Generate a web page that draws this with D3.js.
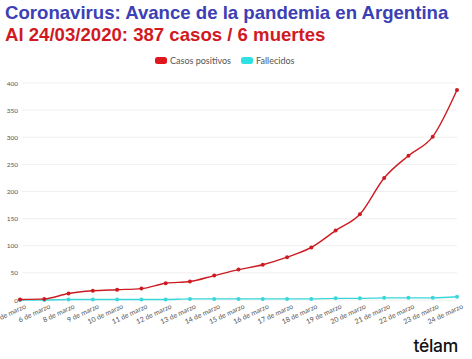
<!DOCTYPE html>
<html>
<head>
<meta charset="utf-8">
<script src="https://cdn.jsdelivr.net/npm/d3@7"></script>
<style>
  body { margin: 0; background: #fff; }
  svg { display: block; }
</style>
</head>
<body>
<script>
// Data
var days = ["5 de marzo", "6 de marzo", "8 de marzo", "9 de marzo", "10 de marzo", "11 de marzo",
  "12 de marzo", "13 de marzo", "14 de marzo", "15 de marzo", "16 de marzo", "17 de marzo",
  "18 de marzo", "19 de marzo", "20 de marzo", "21 de marzo", "22 de marzo", "23 de marzo", "24 de marzo"];
var casos = [1, 2, 12, 17, 19, 21, 31, 34, 45, 56, 65, 79, 97, 128, 158, 225, 266, 301, 387];
var fallecidos = [0, 0, 1, 1, 1, 1, 1, 2, 2, 2, 2, 2, 2, 3, 3, 4, 4, 4, 6];
var yTicks = [0, 50, 100, 150, 200, 250, 300, 350, 400];

var W = 472, H = 359;
var svg = d3.select("body").append("svg").attr("width", W).attr("height", H);

// Titles
svg.append("text")
  .attr("x", 5).attr("y", 19)
  .attr("font-family", "Liberation Sans, Arial, sans-serif")
  .attr("font-weight", "bold").attr("font-size", 18.6)
  .attr("fill", "#3b40b4")
  .text("Coronavirus: Avance de la pandemia en Argentina");
svg.append("text")
  .attr("x", 5).attr("y", 41)
  .attr("font-family", "Liberation Sans, Arial, sans-serif")
  .attr("font-weight", "bold").attr("font-size", 18.6)
  .attr("fill", "#d11a1f")
  .text("Al 24/03/2020: 387 casos / 6 muertes");

// Scales
var x = d3.scalePoint().domain(days).range([20, 457]);
var y = d3.scaleLinear().domain([0, 400]).range([300, 83]);

// Grid
svg.append("g").selectAll("line").data(yTicks).enter().append("line")
  .attr("x1", 22).attr("x2", 457)
  .attr("y1", function(d) { return y(d); })
  .attr("y2", function(d) { return y(d); })
  .attr("stroke", "#efefef").attr("stroke-width", 1);

// Y axis
var yAxis = svg.append("g")
  .attr("transform", "translate(19,0)")
  .call(d3.axisLeft(y).tickValues(yTicks).tickSize(0).tickPadding(1));
yAxis.select(".domain").remove();
yAxis.selectAll("text")
  .attr("font-family", "Lato, sans-serif").attr("font-size", 6.5).attr("fill", "#555");

// X axis
var xAxis = svg.append("g")
  .attr("transform", "translate(0,300)")
  .call(d3.axisBottom(x).tickSize(0));
xAxis.select(".domain").remove();
xAxis.selectAll("text")
  .attr("font-family", "Lato, sans-serif").attr("font-size", 7).attr("fill", "#555")
  .attr("text-anchor", "end")
  .attr("y", 0).attr("dy", 0)
  .attr("transform", "translate(6,8) rotate(-25)");

// Lines
var line = d3.line().curve(d3.curveMonotoneX);
function drawSeries(vals, color) {
  var pts = vals.map(function(v, i) { return [x(days[i]), y(v)]; });
  svg.append("path").attr("d", line(pts))
    .attr("fill", "none").attr("stroke", color).attr("stroke-width", 1.4);
  svg.append("g").selectAll("circle").data(pts).enter().append("circle")
    .attr("cx", function(d) { return d[0]; })
    .attr("cy", function(d) { return d[1]; })
    .attr("r", 2).attr("fill", color);
}
drawSeries(fallecidos, "#3ad7da");
drawSeries(casos, "#cc1b22");

// Legend
var legend = [{ name: "Casos positivos", color: "#e0161d", x: 155 }, { name: "Fallecidos", color: "#2fe0e3", x: 241 }];
var lg = svg.append("g").selectAll("g").data(legend).enter().append("g")
  .attr("transform", function(d) { return "translate(" + d.x + ",57)"; });
lg.append("rect").attr("width", 12).attr("height", 7).attr("rx", 2.5)
  .attr("fill", function(d) { return d.color; });
lg.append("text").attr("x", 15).attr("y", 7)
  .attr("font-family", "Lato, sans-serif").attr("font-size", 9).attr("fill", "#555")
  .text(function(d) { return d.name; });

// Logo
svg.append("text")
  .attr("x", 458).attr("y", 352).attr("text-anchor", "end")
  .attr("font-family", "Inter, sans-serif").attr("font-weight", 500)
  .attr("font-size", 17.5).attr("letter-spacing", -0.3)
  .attr("fill", "#111")
  .text("télam");
</script>
</body>
</html>
